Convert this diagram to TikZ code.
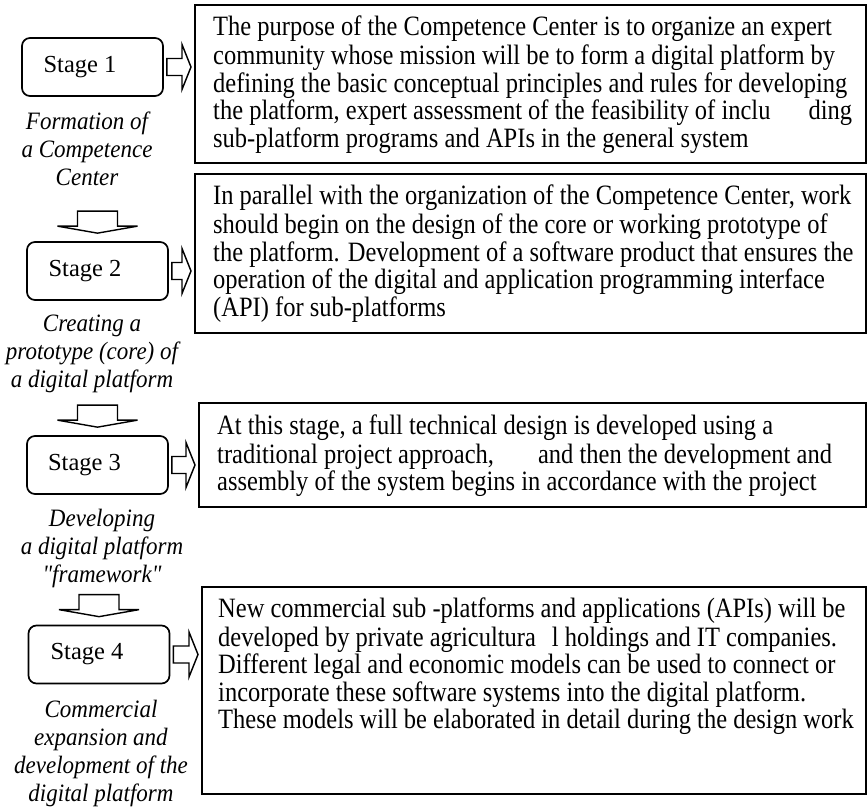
\documentclass[tikz,border=0pt]{standalone}
\usepackage{fontspec}
\setmainfont{Liberation Serif}
\newfontfamily\boxfont[FakeStretch=0.875]{Liberation Serif}
\newfontfamily\lblfont[FakeStretch=0.92]{Liberation Serif}
\usetikzlibrary{calc}
\tikzset{
  stagebox/.style={draw, line width=1.7pt, rounded corners=8pt, minimum width=141pt, minimum height=58pt, inner sep=0pt, font=\fontsize{24.5}{27.5}\selectfont},
  textbox/.style={draw, line width=1.8pt, anchor=north west, inner sep=0pt, fill=white},
  txt/.style={anchor=north west, align=left, inner sep=0pt, font=\boxfont\fontsize{28}{27.4}\selectfont},
  lbl/.style={align=center, inner sep=0pt, font=\lblfont\fontsize{25}{28}\selectfont\itshape},
  blk/.style={draw, line width=1.4pt, fill=white, line join=miter}
}
\newcommand\blkright[2]{%
  \draw[blk] ($(#1.east)+(3,-8.5)$) -- ($(#1.east -| #2.west)+(-12,-8.5)$) -- ++(0,-14)
    -- ($(#1.east -| #2.west)+(-3,0)$) -- ++(-9,22.5) -- ++(0,-14) -- ($(#1.east)+(3,8.5)$) -- cycle;}
\newcommand\blkdown[1]{%
  \draw[blk] ($(#1.north)+(-20,-30)$) -- ++(40,0) -- ++(0,15) -- ++(20,0)
    -- ($(#1.north)+(0,-8)$) -- ++(-40,-7) -- ++(20,0) -- cycle;}
\begin{document}
\begin{tikzpicture}[x=1pt,y=-1pt]
\useasboundingbox (0,0) rectangle (868,810);
% stage boxes
\node[stagebox] (s1) at (92.5,67) {Stage 1\hspace*{25pt}};
\node[stagebox] (s2) at (97.5,271) {Stage 2\hspace*{25pt}};
\node[stagebox] (s3) at (97.5,465) {Stage 3\hspace*{26pt}};
\node[stagebox] (s4) at (99,654.5) {Stage 4\hspace*{24pt}};
% labels
\node[lbl] (d1) at (87,149) {Formation of\\a Competence\\Center};
\node[lbl] (d2) at (92,354) {Creating a\\prototype (core) of\\a digital platform};
\node[lbl] (d3) at (102,548) {Developing\\a digital platform\\"framework"};
\node[lbl] (d4) at (101,753) {Commercial\\expansion and\\development of the\\digital platform};
% text boxes
\node[textbox, minimum width=671pt, minimum height=158pt] (b1) at (194,4) {};
\node[textbox, minimum width=671pt, minimum height=159pt] (b2) at (194,173) {};
\node[textbox, minimum width=667pt, minimum height=104pt] (b3) at (198,402) {};
\node[textbox, minimum width=664pt, minimum height=207pt] (b4) at (201,586) {};
\node[txt] (t1) at ($(b1.north west)+(19,12)$) {\strut The purpose of the Competence Center is to organize an expert\\
community whose mission will be to form a digital platform by\\
defining the basic conceptual principles and rules for developing\\
the platform, expert assessment of the feasibility of inclu\hspace{38pt}ding\\
sub-platform programs and APIs in the general system};
\node[txt] (t2) at ($(b2.north west)+(19,12)$) {\strut In parallel with the organization of the Competence Center, work\\
should begin on the design of the core or working prototype of\\
the platform. Development of a software product that ensures the\\
operation of the digital and application programming interface\\
(API) for sub-platforms};
\node[txt] (t3) at ($(b3.north west)+(19,13)$) {\strut At this stage, a full technical design is developed using a\\
traditional project approach,\hspace{44pt}and then the development and\\
assembly of the system begins in accordance with the project};
\node[txt] (t4) at ($(b4.north west)+(17,12)$) {\strut New commercial sub -platforms and applications (APIs) will be\\
developed by private agricultura\hspace{16pt}l holdings and IT companies.\\
Different legal and economic models can be used to connect or\\
incorporate these software systems into the digital platform.\\
These models will be elaborated in detail during the design work};
% arrows
\blkright{s1}{b1}
\blkright{s2}{b2}
\blkright{s3}{b3}
\blkright{s4}{b4}
\blkdown{s2}
\blkdown{s3}
\blkdown{s4}
\end{tikzpicture}
\end{document}
